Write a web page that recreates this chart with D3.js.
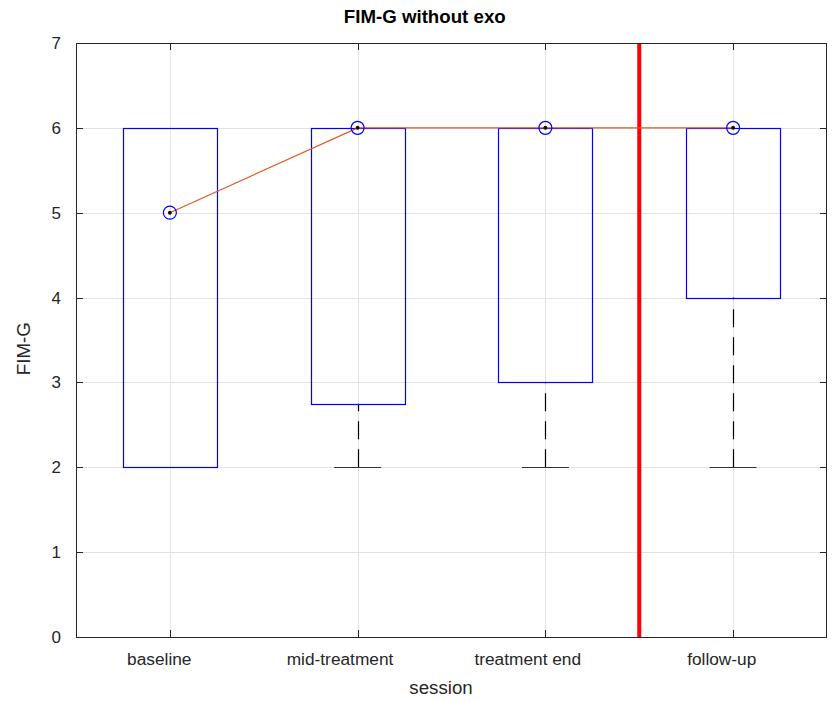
<!DOCTYPE html>
<html>
<head>
<meta charset="utf-8">
<script src="https://cdn.jsdelivr.net/npm/d3@7"></script>
<style>
  body { margin: 0; background: #fff; }
  svg { display: block; font-family: "Liberation Sans", Arial, Helvetica, sans-serif; }
</style>
</head>
<body>
<svg id="chart" width="833" height="702"></svg>
<script>
// Session categories and box-plot summary values
const categories = ["baseline", "mid-treatment", "treatment end", "follow-up"];
const q1 = [2, 2.75, 3, 4];
const q3 = [6, 6, 6, 6];
const whiskerLow = [2, 2, 2, 2];
const whiskerHigh = [6, 6, 6, 6];
const medians = [5, 6, 6, 6];
const yTicks = [0, 1, 2, 3, 4, 5, 6, 7];
const dividerAt = 3.5; // boundary between treatment and follow-up

const svg = d3.select("#chart");
const margin = { left: 76, right: 6, top: 43, bottom: 65 };
const W = 833, H = 702;
const x0 = margin.left, x1 = W - margin.right;
const y0 = H - margin.bottom, y1 = margin.top;

const x = d3.scaleLinear().domain([0.5, 4.5]).range([x0, x1]);
const y = d3.scaleLinear().domain([0, 7]).range([y0, y1]);

const idx = categories.map((_, i) => i + 1);
const boxHalf = 0.25, capHalf = 0.125;

// Text is laid out from a nominal width wider than the rendered glyphs,
// so centred strings start a little left of their anchor point.
const NOMINAL = 0.665;
function startFromNominal(sel) {
  sel.each(function () {
    const t = d3.select(this);
    const c = +t.attr("data-c");
    const w = this.getComputedTextLength();
    t.attr("text-anchor", "start").attr("x", c - NOMINAL * w);
  });
}

// grid
const grid = svg.append("g").attr("stroke", "#e3e3e3").attr("stroke-width", 1);
grid.selectAll("line.gx").data(idx).join("line")
  .attr("x1", d => Math.round(x(d)) + 0.5).attr("x2", d => Math.round(x(d)) + 0.5)
  .attr("y1", y0).attr("y2", y1);
grid.selectAll("line.gy").data(yTicks).join("line")
  .attr("y1", d => Math.round(y(d)) + 0.5).attr("y2", d => Math.round(y(d)) + 0.5)
  .attr("x1", x0).attr("x2", x1);

// whiskers (dashed, drawn outward from the whisker end) and caps
const wk = svg.append("g").attr("stroke", "#000").attr("stroke-width", 1.2).attr("fill", "none");
idx.forEach((d, i) => {
  const cx = Math.round(x(d)) + 0.5;
  if (whiskerLow[i] < q1[i]) {
    wk.append("line").attr("x1", cx).attr("x2", cx)
      .attr("y1", y(whiskerLow[i])).attr("y2", y(q1[i]))
      .attr("stroke-dasharray", "18,10");
  }
  if (whiskerHigh[i] > q3[i]) {
    wk.append("line").attr("x1", cx).attr("x2", cx)
      .attr("y1", y(whiskerHigh[i])).attr("y2", y(q3[i]))
      .attr("stroke-dasharray", "18,10");
  }
  wk.append("line").attr("x1", x(d - capHalf)).attr("x2", x(d + capHalf))
    .attr("y1", Math.round(y(whiskerLow[i])) + 0.5).attr("y2", Math.round(y(whiskerLow[i])) + 0.5)
    .attr("stroke", "#333");
  wk.append("line").attr("x1", x(d - capHalf)).attr("x2", x(d + capHalf))
    .attr("y1", Math.round(y(whiskerHigh[i])) + 0.5).attr("y2", Math.round(y(whiskerHigh[i])) + 0.5)
    .attr("stroke", "#999");
});

// boxes
svg.append("g").selectAll("rect").data(idx).join("rect")
  .attr("x", d => Math.round(x(d - boxHalf)) + 0.5)
  .attr("width", d => Math.round(x(d + boxHalf)) - Math.round(x(d - boxHalf)))
  .attr("y", (d, i) => Math.round(y(q3[i])) + 0.5)
  .attr("height", (d, i) => Math.round(y(q1[i])) - Math.round(y(q3[i])))
  .attr("fill", "none").attr("stroke", "#0000ff").attr("stroke-width", 1.2);

// divider
svg.append("line")
  .attr("x1", x(dividerAt)).attr("x2", x(dividerAt))
  .attr("y1", y0).attr("y2", y1)
  .attr("stroke", "#ff0000").attr("stroke-width", 4);

// median trend line
const line = d3.line().x((d, i) => x(i + 1)).y(d => y(d));
svg.append("path").datum(medians)
  .attr("d", line).attr("fill", "none")
  .attr("stroke", "#e2571e").attr("stroke-width", 1.2);

// median markers
const mk = svg.append("g");
mk.selectAll("circle.ring").data(medians).join("circle")
  .attr("cx", (d, i) => x(i + 1)).attr("cy", d => y(d)).attr("r", 6.5)
  .attr("fill", "none").attr("stroke", "#0000ff").attr("stroke-width", 1.2);
mk.selectAll("circle.dot").data(medians).join("circle")
  .attr("cx", (d, i) => x(i + 1)).attr("cy", d => y(d)).attr("r", 2)
  .attr("fill", "#111");

// axes frame with inward ticks
const axG = svg.append("g").attr("fill", "#262626");
const frame = svg.append("g").attr("stroke", "#262626").attr("stroke-width", 1).attr("fill", "none");
frame.append("rect").attr("x", x0 + 0.5).attr("y", y1 + 0.5)
  .attr("width", x1 - x0 - 1).attr("height", y0 - y1);
const tickLen = 7;
yTicks.forEach(t => {
  const yy = Math.round(y(t)) + 0.5;
  frame.append("line").attr("x1", x0).attr("x2", x0 + tickLen).attr("y1", yy).attr("y2", yy);
  frame.append("line").attr("x1", x1 - tickLen).attr("x2", x1).attr("y1", yy).attr("y2", yy);
});
idx.forEach(d => {
  const xx = Math.round(x(d)) + 0.5;
  frame.append("line").attr("x1", xx).attr("x2", xx).attr("y1", y0).attr("y2", y0 - tickLen);
  frame.append("line").attr("x1", xx).attr("x2", xx).attr("y1", y1).attr("y2", y1 + tickLen);
});

// tick labels
axG.selectAll("text.yt").data(yTicks).join("text")
  .attr("x", x0 - 15).attr("y", d => y(d) + 6)
  .attr("text-anchor", "end").attr("font-size", 17).text(d => d);
axG.selectAll("text.xt").data(categories).join("text")
  .attr("data-c", (d, i) => x(i + 1)).attr("y", y0 + 28)
  .attr("font-size", 17.3).text(d => d)
  .call(startFromNominal);

// axis titles
axG.append("text").attr("data-c", (x0 + x1) / 2).attr("y", y0 + 57)
  .attr("font-size", 18.7).text("session")
  .call(startFromNominal);
axG.append("text").attr("transform", `translate(30,${(y0 + y1) / 2}) rotate(-90)`)
  .attr("data-c", 0).attr("y", 0)
  .attr("font-size", 18.7).text("FIM-G")
  .call(startFromNominal);

// title
svg.append("text").attr("data-c", (x0 + x1) / 2).attr("y", 23)
  .attr("font-size", 18.7).attr("font-weight", "bold")
  .attr("fill", "#000").text("FIM-G without exo")
  .call(startFromNominal);
</script>
</body>
</html>
